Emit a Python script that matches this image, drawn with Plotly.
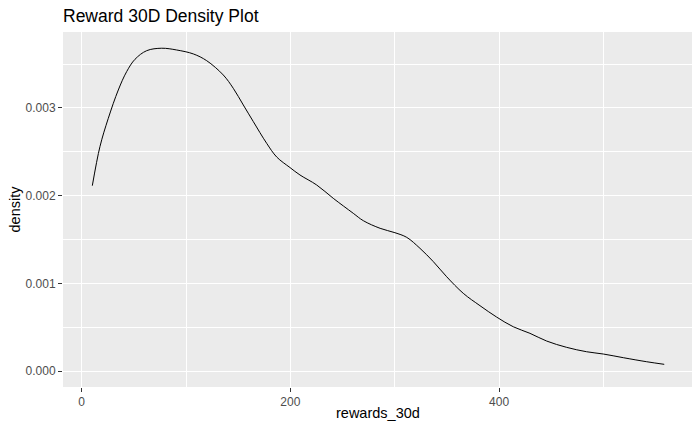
import plotly.graph_objects as go

# density curve
rewards_30d = [10.2, 17.5, 25.5, 35.1, 43.1, 51.1, 62.3, 76.7, 91.0, 107.0, 119.8, 135.7,
               145.3, 154.9, 164.5, 177.3, 186.9, 199.6, 209.2, 225.2, 241.1, 260.3, 269.9,
               286.0, 300.2, 311.5, 324.2, 337.0, 349.8, 365.7, 381.7, 397.7, 413.6, 429.6,
               445.6, 464.8, 483.9, 499.9, 519.1, 541.5, 558.3]
density = [0.002113, 0.002558, 0.002881, 0.003204, 0.003413, 0.003554, 0.003652, 0.003680,
           0.003660, 0.003615, 0.003538, 0.003375, 0.003223, 0.003033, 0.002843, 0.002596,
           0.002440, 0.002320, 0.002235, 0.002121, 0.001969, 0.001798, 0.001714, 0.001627,
           0.001577, 0.001524, 0.001399, 0.001247, 0.001075, 0.000886, 0.000745, 0.000615,
           0.000505, 0.000430, 0.000342, 0.000270, 0.000220, 0.000194, 0.000152, 0.000106,
           0.0000764]

x_ticks = [0, 200, 400]
y_ticks = [0.000, 0.001, 0.002, 0.003]

FONT = "Liberation Sans, Arial, sans-serif"
PANEL_BG = "#EBEBEB"
W, H = 700, 432
ML, MR, MT, MB = 63, 8, 32, 45

fig = go.Figure()
fig.add_trace(go.Scatter(
    x=rewards_30d, y=density, mode="lines",
    line=dict(color="black", width=1, shape="spline", smoothing=1.0),
    hoverinfo="skip", showlegend=False
))

axis_common = dict(
    showgrid=True, gridcolor="white", gridwidth=1.1,
    zeroline=False, showline=False, automargin=False,
    ticks="outside", ticklen=4, tickwidth=1, tickcolor="#333333",
    tickfont=dict(family=FONT, size=12, color="#4D4D4D"),
    minor=dict(showgrid=True, gridcolor="white", gridwidth=0.5, ticks=""),
)

fig.update_xaxes(range=[-17.9, 584.9], tickvals=x_ticks,
                 minor_tickvals=[100, 300, 500], **axis_common)
fig.update_yaxes(range=[-0.000182, 0.003865], tickvals=y_ticks, tickformat=".3f",
                 minor_tickvals=[0.0005, 0.0015, 0.0025, 0.0035], **axis_common)

# axis titles placed like ggplot2
fig.add_annotation(text="rewards_30d", xref="paper", yref="paper",
                   x=0.5, y=-(413 - (H - MB)) / (H - MT - MB), yanchor="middle",
                   showarrow=False, font=dict(family=FONT, size=14.5, color="black"))
fig.add_annotation(text="density", xref="paper", yref="paper", textangle=-90,
                   x=-(ML - 14) / (W - ML - MR), xanchor="center", y=0.5,
                   showarrow=False, font=dict(family=FONT, size=14.5, color="black"))

fig.update_layout(
    width=W, height=H,
    margin=dict(l=ML, r=MR, t=MT, b=MB, autoexpand=False),
    paper_bgcolor="white", plot_bgcolor=PANEL_BG,
    title=dict(text="Reward 30D Density Plot", x=ML / W, xref="container", xanchor="left",
               y=1 - 16 / H, yref="container", yanchor="middle",
               font=dict(family=FONT, size=17.5, color="black")),
)

fig.write_html("out.html", config={"displayModeBar": False},
               post_script="document.body.style.margin='0';")
